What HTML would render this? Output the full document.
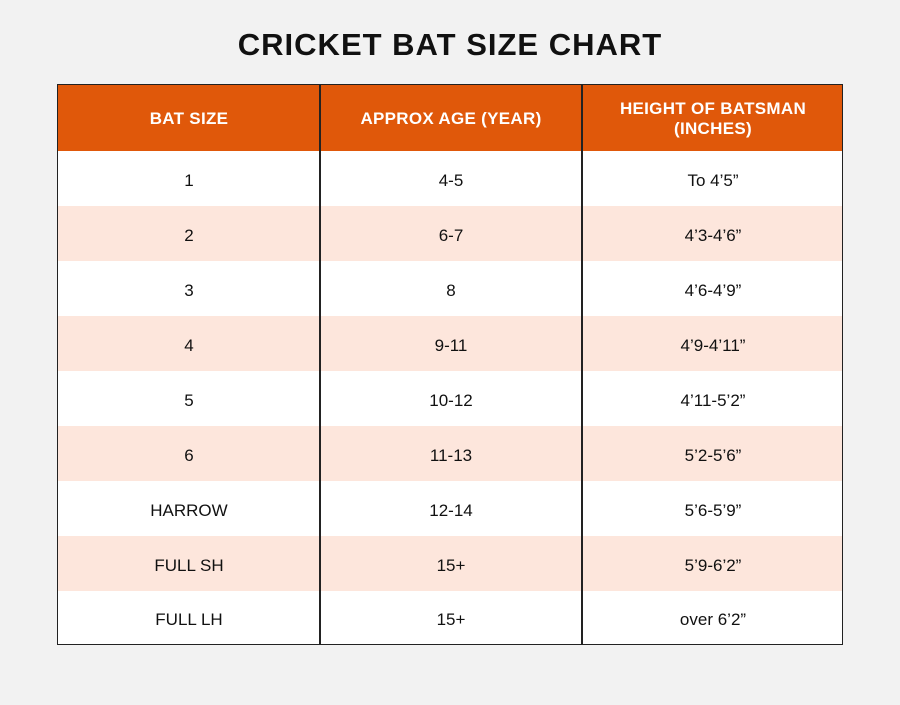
<!DOCTYPE html>
<html><head><style>
body{margin:0;width:900px;height:705px;background:#f2f2f2;font-family:"Liberation Sans",sans-serif;position:relative;overflow:hidden}
h1{position:absolute;top:27px;left:0;width:900px;text-align:center;margin:0;font-size:31px;font-weight:bold;color:#111;letter-spacing:1px}
.t{position:absolute;left:57px;top:84px;width:786px;height:561px;border:1.5px solid #222;box-sizing:border-box;background:#fff}
.row{position:absolute;left:0;width:100%;height:55px}
.c{position:absolute;top:0;height:100%;display:flex;align-items:center;justify-content:center;text-align:center;font-size:17px;color:#111;padding-top:5px;box-sizing:border-box}
.h{background:#e0580a;height:66px;top:0}
.h .c{color:#fff;font-weight:bold;font-size:17px;line-height:20px;letter-spacing:0.3px;padding-top:2px}
.p{background:#fde6dc}
.v{position:absolute;top:0;bottom:0;width:1.5px;background:#222}
</style></head><body>
<h1>CRICKET BAT SIZE CHART</h1>
<div class="t">
<div class="row h"><div class="c" style="left:0;width:262px">BAT SIZE</div><div class="c" style="left:262px;width:262px">APPROX AGE (YEAR)</div><div class="c" style="left:524px;width:262px">HEIGHT OF BATSMAN<br>(INCHES)</div></div>
<div class="row" style="top:66px"><div class="c" style="left:0;width:262px">1</div><div class="c" style="left:262px;width:262px">4-5</div><div class="c" style="left:524px;width:262px">To 4’5”</div></div>
<div class="row p" style="top:121px"><div class="c" style="left:0;width:262px">2</div><div class="c" style="left:262px;width:262px">6-7</div><div class="c" style="left:524px;width:262px">4’3-4’6”</div></div>
<div class="row" style="top:176px"><div class="c" style="left:0;width:262px">3</div><div class="c" style="left:262px;width:262px">8</div><div class="c" style="left:524px;width:262px">4’6-4’9”</div></div>
<div class="row p" style="top:231px"><div class="c" style="left:0;width:262px">4</div><div class="c" style="left:262px;width:262px">9-11</div><div class="c" style="left:524px;width:262px">4’9-4’11”</div></div>
<div class="row" style="top:286px"><div class="c" style="left:0;width:262px">5</div><div class="c" style="left:262px;width:262px">10-12</div><div class="c" style="left:524px;width:262px">4’11-5’2”</div></div>
<div class="row p" style="top:341px"><div class="c" style="left:0;width:262px">6</div><div class="c" style="left:262px;width:262px">11-13</div><div class="c" style="left:524px;width:262px">5’2-5’6”</div></div>
<div class="row" style="top:396px"><div class="c" style="left:0;width:262px">HARROW</div><div class="c" style="left:262px;width:262px">12-14</div><div class="c" style="left:524px;width:262px">5’6-5’9”</div></div>
<div class="row p" style="top:451px"><div class="c" style="left:0;width:262px">FULL SH</div><div class="c" style="left:262px;width:262px">15+</div><div class="c" style="left:524px;width:262px">5’9-6’2”</div></div>
<div class="row" style="top:506px;height:53px"><div class="c" style="left:0;width:262px">FULL LH</div><div class="c" style="left:262px;width:262px">15+</div><div class="c" style="left:524px;width:262px">over 6’2”</div></div>
<div class="v" style="left:261px"></div><div class="v" style="left:523px"></div>
</div>
</body></html>
